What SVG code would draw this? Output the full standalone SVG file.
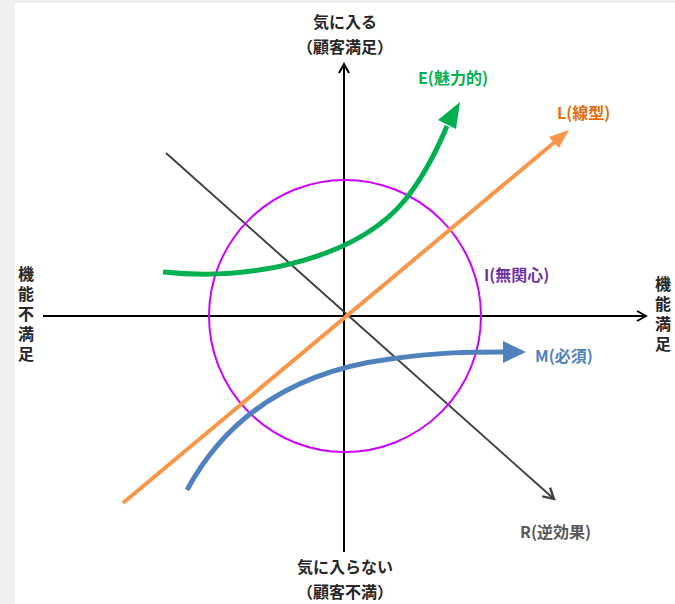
<svg xmlns="http://www.w3.org/2000/svg" width="675" height="604" viewBox="0 0 675 604">
<style>
text{font-family:"Noto Sans CJK JP","Liberation Sans",sans-serif;font-weight:bold;font-size:16px;}
.vt{writing-mode:vertical-rl;letter-spacing:4px;}
.ax{stroke:#000;stroke-width:2;fill:none}
</style>
<defs>
<marker id="chev" viewBox="0 0 12 12" refX="10" refY="6" markerWidth="12" markerHeight="12" markerUnits="userSpaceOnUse" orient="auto">
<path d="M1,1 L10,6 L1,11" fill="none" stroke="#000" stroke-width="2"/>
</marker>
<marker id="chevg" viewBox="0 0 12 12" refX="10" refY="6" markerWidth="14" markerHeight="14" markerUnits="userSpaceOnUse" orient="auto">
<path d="M1,1 L10,6 L1,11" fill="none" stroke="#404040" stroke-width="2"/>
</marker>
</defs>
<rect x="0" y="0" width="675" height="604" fill="#f0f0f0"/>
<rect x="15" y="3" width="660" height="601" fill="#fff"/>
<g id="connectors">
<line class="ax" x1="344" y1="552" x2="344" y2="64" marker-end="url(#chev)"/>
<line class="ax" x1="43" y1="316" x2="646" y2="316" marker-end="url(#chev)"/>
<line x1="166" y1="153" x2="554" y2="499" stroke="#404040" stroke-width="2" marker-end="url(#chevg)"/>
</g>
<g id="circle-I">
<circle cx="345" cy="316" r="136" fill="none" stroke="#cc00ff" stroke-width="2"/>
<text x="484" y="281" fill="#7030a0">I(無関心)</text>
</g>
<g id="line-L">
<line x1="123" y1="503" x2="556" y2="141" stroke="#f79646" stroke-width="4"/>
<path d="M569,130 L549,137 L559,148 Z" fill="#f79646"/>
<text x="557" y="119" fill="#e46c0a">L(線型)</text>
</g>
<g id="curve-E">
<path d="M163,272 C260,282 360,255 405,200 C425,175 437,150 447,126" fill="none" stroke="#00b050" stroke-width="5"/>
<path d="M460,102 L438,120 L456,129 Z" fill="#00b050"/>
<text x="418" y="84" fill="#00b050">E(魅力的)</text>
</g>
<g id="curve-M">
<path d="M187,490 C225,420 290,372 390,359 C440,352 470,352 503,352" fill="none" stroke="#4f81bd" stroke-width="5"/>
<path d="M526,352 L503,341 L503,363 Z" fill="#4f81bd"/>
<text x="535" y="362" fill="#4f81bd">M(必須)</text>
</g>
<g id="curve-R">
<text x="520" y="538" fill="#595959">R(逆効果)</text>
</g>
<g id="label-top">
<text x="345" y="28" text-anchor="middle" fill="#262626">気に入る</text>
<text x="345" y="53" text-anchor="middle" fill="#262626">（顧客満足）</text>
</g>
<g id="label-bottom">
<text x="345" y="573" text-anchor="middle" fill="#262626">気に入らない</text>
<text x="345" y="598" text-anchor="middle" fill="#262626">（顧客不満）</text>
</g>
<g id="label-left">
<text class="vt" x="26" y="266" fill="#262626">機能不満足</text>
</g>
<g id="label-right">
<text class="vt" x="663" y="276" fill="#262626">機能満足</text>
</g>
</svg>
